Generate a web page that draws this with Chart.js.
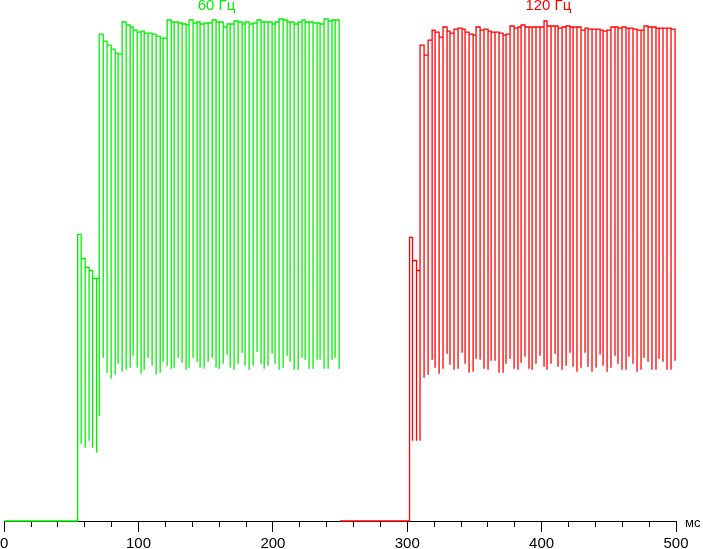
<!DOCTYPE html>
<html>
<head>
<meta charset="utf-8">
<script src="https://cdn.jsdelivr.net/npm/chart.js@4/dist/chart.umd.min.js"></script>
<style>
  html, body { margin: 0; padding: 0; background: #fff; }
  canvas { display: block; }
</style>
</head>
<body>
<canvas id="chart" width="703" height="549"></canvas>
<script>
// series names and axis unit
const seriesNames = ["60 Гц", "120 Гц"];
const unitLabel = "мс";
const tickValues = [0, 100, 200, 300, 400, 500];

// 60 Hz: level before the rise, rise time (ms), then each dip: time, dip level, level before dip
const greenBase = 0;
const greenStart = 0;
const greenRise = 54.7;
const greenTimes = [57.3, 60.3, 63.2, 65.8, 68.8, 70.7, 73.7, 76.6, 79.6, 82.6,
    84.8, 87.8, 90.8, 93.8, 96.0, 99.0, 101.9, 104.2, 107.1, 110.1,
    113.1, 116.1, 118.3, 121.3, 124.3, 126.5, 129.5, 132.4, 135.4, 137.6,
    140.6, 143.6, 145.8, 148.8, 151.8, 154.8, 157.7, 160.0, 163.0, 165.9,
    168.2, 171.1, 174.1, 177.1, 179.3, 182.3, 185.3, 188.2, 191.2, 193.5,
    196.4, 199.4, 201.6, 204.6, 207.6, 210.6, 212.8, 215.8, 218.8, 221.7,
    224.0, 226.9, 229.9, 232.9, 235.1, 238.1, 241.1, 244.0, 246.3, 249.3];
const greenLow = [15.4, 14.6, 16.0, 14.6, 13.6, 21.0, 32.6, 29.6, 28.4, 29.2,
    31.4, 29.8, 30.2, 30.6, 33.0, 30.6, 29.4, 30.2, 32.6, 31.0,
    29.2, 29.6, 31.8, 31.0, 30.4, 30.6, 32.6, 31.6, 30.2, 30.6,
    32.6, 31.8, 30.6, 30.4, 31.8, 32.6, 30.6, 30.4, 31.4, 33.2,
    30.6, 30.2, 31.4, 33.6, 31.0, 30.2, 31.0, 33.8, 31.4, 30.4,
    31.0, 33.4, 31.4, 30.2, 30.6, 33.0, 31.8, 30.2, 30.2, 32.6,
    32.2, 30.4, 30.4, 32.2, 32.2, 30.4, 30.4, 32.2, 32.6, 30.4];
const greenHigh = [57.2, 52.4, 50.6, 50.0, 48.4, 48.4, 97.2, 95.8, 95.0, 94.2,
    93.4, 93.2, 99.6, 99.0, 98.6, 98.0, 97.6, 97.8, 97.4, 97.4,
    97.2, 96.8, 96.4, 96.4, 100, 99.6, 99.6, 99.4, 99.2, 99.0,
    100, 99.4, 99.6, 99.2, 99.4, 99.4, 100, 99.6, 99.6, 98.6,
    99.2, 99.2, 99.8, 99.6, 99.2, 99.6, 99.2, 99.4, 100, 99.6,
    99.6, 99.6, 99.2, 99.6, 100.2, 100, 99.6, 99.6, 99.2, 99.6,
    100, 99.6, 99.6, 99.4, 99.4, 99.2, 100.2, 99.8, 100, 100];

// 120 Hz
const redBase = 0;
const redStart = 250;
const redRise = 301.7;
const redTimes = [303.9, 306.9, 309.5, 312.5, 315.5, 318.5, 320.7, 323.7, 326.6, 329.6,
    331.8, 334.8, 337.8, 340.8, 343.0, 346.0, 349.0, 351.2, 354.2, 357.1,
    360.1, 362.4, 365.3, 368.3, 371.3, 373.5, 376.5, 379.5, 382.4, 384.7,
    387.6, 390.6, 392.9, 395.8, 398.8, 401.8, 404.0, 407.0, 410.0, 412.2,
    415.2, 418.2, 421.1, 423.4, 426.3, 429.3, 432.3, 434.5, 437.5, 440.5,
    443.5, 445.7, 448.7, 451.6, 454.6, 456.8, 459.8, 462.8, 465.0, 468.0,
    471.0, 474.0, 476.2, 479.2, 482.1, 485.1, 487.4, 490.3, 493.3, 496.3,
    499.3];
const redLow = [16, 16, 16, 28.6, 29.2, 32.2, 30.6, 29.4, 30.4, 33.4,
    31.2, 30.2, 30.4, 33.6, 31.4, 29.6, 29.8, 32.4, 32.2, 30.4,
    30.2, 32, 32, 29.6, 29.6, 31.4, 32.4, 30.4, 30.2, 31.6,
    32.8, 30.4, 30.2, 31.4, 33, 30.8, 30.2, 31.4, 33.4, 30.8,
    30.2, 31, 33.6, 30.8, 29.8, 30.6, 33.6, 30.8, 29.8, 30.6,
    33.2, 31, 29.8, 30.6, 33, 31.4, 30.2, 30.2, 32.8, 31.4,
    29.8, 30.2, 32.6, 31.8, 30.2, 30.2, 32.4, 31.8, 30.2, 30.2,
    32];
const redHigh = [56.6, 52, 50, 95, 93, 96, 98, 97.6, 96.6, 98.6,
    97.8, 97.4, 98.2, 98.4, 98.2, 97.6, 97.2, 97.0, 98.6, 98,
    98.2, 97.8, 97.6, 97.6, 97.4, 97.0, 97.2, 98.8, 98.4, 98.6,
    99, 98.6, 98.6, 98.6, 98.6, 98.6, 99.8, 98.8, 98.8, 98.8,
    98.4, 98.6, 98.8, 98.6, 98.6, 98.6, 98, 98.4, 98.2, 98.2,
    98.2, 98, 97.8, 98, 98.6, 98.6, 98.4, 98.6, 98.4, 98.4,
    98.2, 98, 98, 98.8, 98.6, 98.6, 98.4, 98.4, 98.4, 98.4,
    98.2];

const greenColor = "#00f000";
const redColor = "#ff0000";
const fontFamily = '"Liberation Sans", Arial, sans-serif';
// where the two captions sit along the time axis
const captionAt = [158, 405];

// step points: flat at base, rise, then flat top -> dip -> next top ...
function buildPoints(start, base, rise, times, low, high) {
    const pts = [{ x: start, y: base }, { x: rise, y: high[0] }];
    for (let i = 0; i < times.length; i++) {
        pts.push({ x: times[i], y: low[i] });
        if (i + 1 < times.length) pts.push({ x: times[i], y: high[i + 1] });
    }
    return pts;
}

const textPlugin = {
    id: "texts",
    afterDraw(chart) {
        const ctx = chart.ctx;
        const x = chart.scales.x;
        ctx.save();
        ctx.font = "15px " + fontFamily;
        ctx.textBaseline = "top";
        ctx.textAlign = "center";
        ctx.fillStyle = greenColor;
        ctx.fillText(seriesNames[0], x.getPixelForValue(captionAt[0]), -2);
        ctx.fillStyle = redColor;
        ctx.fillText(seriesNames[1], x.getPixelForValue(captionAt[1]), -2);
        ctx.font = "13px " + fontFamily;
        ctx.textAlign = "left";
        ctx.textBaseline = "middle";
        ctx.fillStyle = "#000";
        ctx.fillText(unitLabel, x.right + 9, x.top + 1);
        ctx.restore();
    }
};

const ctx = document.getElementById("chart").getContext("2d");

new Chart(ctx, {
    type: "line",
    data: {
        datasets: [
            {
                label: seriesNames[0],
                data: buildPoints(greenStart, greenBase, greenRise, greenTimes, greenLow, greenHigh),
                borderColor: greenColor,
                borderWidth: 1.3,
                pointRadius: 0,
                stepped: true,
                tension: 0
            },
            {
                label: seriesNames[1],
                data: buildPoints(redStart, redBase, redRise, redTimes, redLow, redHigh),
                borderColor: redColor,
                borderWidth: 1.3,
                pointRadius: 0,
                stepped: true,
                tension: 0
            }
        ]
    },
    options: {
        responsive: false,
        animation: false,
        events: [],
        layout: { padding: { left: 4, right: 27, top: 15, bottom: 0 } },
        plugins: {
            legend: { display: false },
            tooltip: { enabled: false }
        },
        scales: {
            x: {
                type: "linear",
                min: 0,
                max: 500,
                border: { display: true, color: "#000", width: 1 },
                grid: {
                    drawOnChartArea: false,
                    drawTicks: true,
                    tickLength: 17,
                    tickColor: "#000",
                    // long marks every 100 ms, short ones every 20 ms
                    tickBorderDash: c => (c.tick && c.tick.value % 100 === 0) ? [10, 30] : [5, 30]
                },
                ticks: {
                    stepSize: 20,
                    autoSkip: false,
                    maxRotation: 0,
                    padding: 0,
                    color: "#000",
                    font: { family: fontFamily, size: 15, lineHeight: 0.667 },
                    callback: v => tickValues.includes(v) ? String(v) : ""
                }
            },
            y: {
                display: false,
                min: -0.2,
                max: 101
            }
        }
    },
    plugins: [textPlugin]
});
</script>
</body>
</html>
